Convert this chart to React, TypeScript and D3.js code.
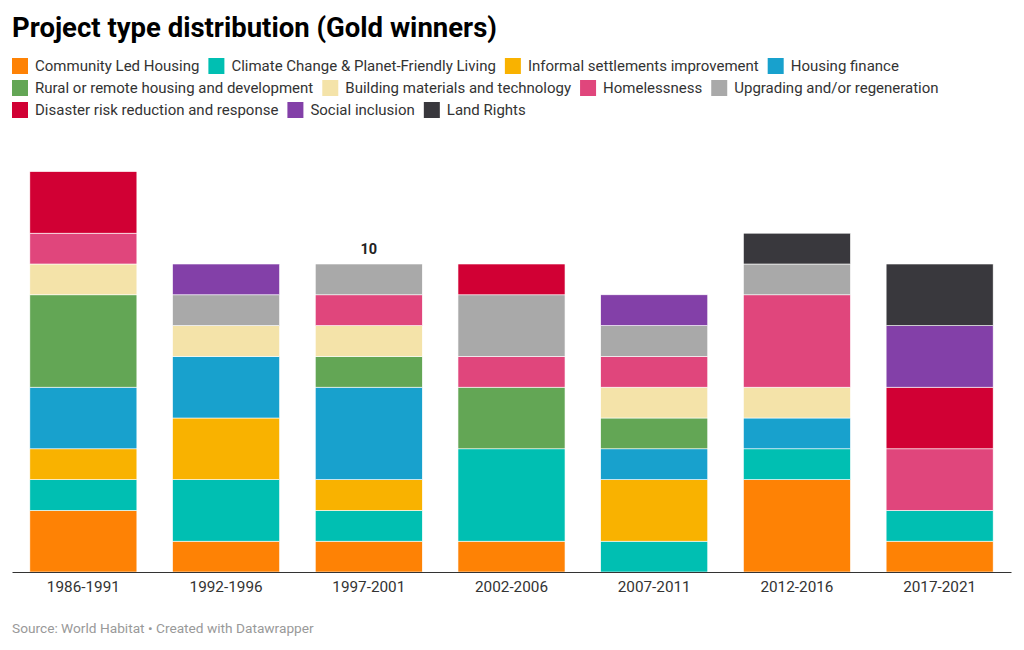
import React, { useEffect, useRef } from "react";
import * as d3 from "d3";

const periods = ["1986-1991", "1992-1996", "1997-2001", "2002-2006", "2007-2011", "2012-2016", "2017-2021"];
const seriesNames = [
  "Community Led Housing",
  "Climate Change & Planet-Friendly Living",
  "Informal settlements improvement",
  "Housing finance",
  "Rural or remote housing and development",
  "Building materials and technology",
  "Homelessness",
  "Upgrading and/or regeneration",
  "Disaster risk reduction and response",
  "Social inclusion",
  "Land Rights",
];
const seriesColors = ["#fe8205", "#00bfb2", "#f9b200", "#18a1cd", "#63a655", "#f4e3a9", "#e0467c", "#a9a9a9", "#d10034", "#8340a8", "#39383d"];

const communityLed = [2, 1, 1, 1, 0, 3, 1];
const climateChange = [1, 2, 1, 3, 1, 1, 1];
const informalSettlements = [1, 2, 1, 0, 2, 0, 0];
const housingFinance = [2, 2, 3, 0, 1, 1, 0];
const ruralRemote = [3, 0, 1, 2, 1, 0, 0];
const buildingMaterials = [1, 1, 1, 0, 1, 1, 0];
const homelessness = [1, 0, 1, 1, 1, 3, 2];
const upgrading = [0, 1, 1, 2, 1, 1, 0];
const disasterRisk = [2, 0, 0, 1, 0, 0, 2];
const socialInclusion = [0, 1, 0, 0, 1, 0, 2];
const landRights = [0, 0, 0, 0, 0, 1, 2];

const seriesValues = [communityLed, climateChange, informalSettlements, housingFinance, ruralRemote, buildingMaterials, homelessness, upgrading, disasterRisk, socialInclusion, landRights];
const labeledPeriod = "1997-2001";

const W = 1024;
const H = 650;
const FONT = "Roboto, 'Noto Sans', sans-serif";

export default function App() {
  const ref = useRef<SVGSVGElement>(null);

  useEffect(() => {
    const svg = d3.select(ref.current);
    svg.selectAll("*").remove();

    svg.append("text").attr("x", 12).attr("y", 37).attr("font-family", FONT).attr("font-weight", 700)
      .attr("font-size", 27.5).attr("fill", "#000").text("Project type distribution (Gold winners)");

    // legend
    const legend = svg.append("g");
    let lx = 12, ly = 66;
    const maxX = 1012;
    seriesNames.forEach((name, i) => {
      const g = legend.append("g");
      const t = g.append("text").attr("x", 23).attr("y", 0).attr("dy", "0.35em").attr("font-family", FONT)
        .attr("font-size", 15).attr("fill", "#333").text(name);
      const tw = (t.node() as SVGTextElement).getComputedTextLength();
      const itemW = 23 + tw;
      if (lx + itemW > maxX) { lx = 12; ly += 22; }
      g.attr("transform", `translate(${lx},${ly})`);
      g.insert("rect", "text").attr("x", 0).attr("y", -8).attr("width", 16).attr("height", 16).attr("fill", seriesColors[i]);
      lx += itemW + 9;
    });

    const rows = periods.map((p, j) => {
      const o: any = { period: p };
      seriesNames.forEach((s, i) => (o[s] = seriesValues[i][j]));
      return o;
    });
    const stacked = d3.stack<any>().keys(seriesNames)(rows);

    const x = d3.scaleBand<string>().domain(periods).range([12, 1011]).paddingInner(0.25).paddingOuter(0.125);
    const y = d3.scaleLinear().domain([0, 10]).range([572, 264]);

    const g = svg.append("g");
    stacked.forEach((layer, i) => {
      g.append("g").selectAll("rect").data(layer.filter((d) => d[1] - d[0] > 0)).join("rect")
        .attr("x", (d: any) => x(d.data.period)!)
        .attr("width", x.bandwidth())
        .attr("y", (d) => y(d[1]))
        .attr("height", (d) => y(d[0]) - y(d[1]))
        .attr("fill", seriesColors[i])
        .attr("stroke", "#fff")
        .attr("stroke-width", 0.6);
    });

    // total label
    const total = stacked[stacked.length - 1].find((d: any) => d.data.period === labeledPeriod)!;
    g.append("text").attr("x", x(labeledPeriod)! + x.bandwidth() / 2).attr("y", y(total[1]) - 15)
      .attr("dy", "0.35em").attr("text-anchor", "middle").attr("font-family", FONT).attr("font-weight", 700)
      .attr("font-size", 14.5).attr("fill", "#222").text(String(total[1]));

    // axis
    const ax = svg.append("g").attr("transform", "translate(0,572)").call(d3.axisBottom(x).tickSize(0).tickPadding(9));
    ax.select(".domain").attr("stroke", "#333").attr("stroke-width", 1.2);
    ax.selectAll("text").attr("font-family", FONT).attr("font-size", 15.3).attr("fill", "#333");

    svg.append("text").attr("x", 12).attr("y", 633).attr("font-family", FONT).attr("font-size", 13.7)
      .attr("fill", "#999").text("Source: World Habitat • Created with Datawrapper");
  }, []);

  return (
    <svg ref={ref} width={W} height={H} style={{ position: "absolute", left: 0, top: 0, background: "#fff" }} />
  );
}
